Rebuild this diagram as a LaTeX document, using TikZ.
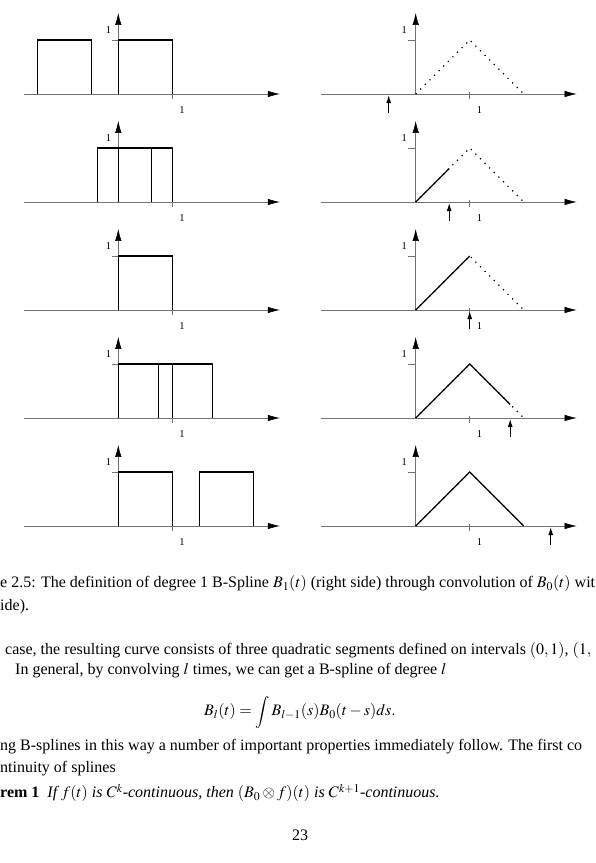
\documentclass[tikz,border=0pt]{standalone}
\usepackage{amsmath}
\usepackage{mathptmx}
\usepackage{fontspec}
\setmainfont{Liberation Serif}
\usepackage{tikz}
\usetikzlibrary{arrows.meta,calc}

\begin{document}
\begin{tikzpicture}[
    axisline/.style={draw=black!55, line width=0.5bp,
                     -{Latex[length=12bp,width=6.5bp,black]}},
    tickmark/.style={draw=black!55, line width=0.5bp},
    boxline/.style={line width=1.2bp},
    solid curve/.style={line width=1.2bp},
    dotted curve/.style={line width=1.2bp, dash pattern=on 1.2bp off 5.3bp},
    marker/.style={line width=1bp, -{Latex[length=8bp,width=5bp]}},
    lbl/.style={inner sep=0pt, font=\fontsize{10.5bp}{12bp}\selectfont},
    txt/.style={anchor=base west, inner sep=0pt, font=\fontsize{16bp}{19bp}\selectfont},
    x=1bp, y=1bp
]
\useasboundingbox (0,0) rectangle (596,863);
\clip (0,0) rectangle (596,863);

% rows: position t of the moving box and height of the axis
\foreach \t/\Y [count=\i] in {-0.5/769, 0.62/661, 1/553, 1.75/445, 2.5/337} {
  % left: B_0(s) and B_0(t-s)
  \begin{scope}[shift={(118.3,\Y)}, x=54bp, y=54bp]
    \draw[axisline] (-1.74,0) -- (2.99,0);
    \draw[axisline] (0,0) -- (0,1.5);
    \draw[tickmark] (-0.11,1) -- (0,1);
    \draw[tickmark] (1,0.03) -- (1,-0.1);
    \node[lbl] (ly\i) at (-0.18,1.19) {1};
    \node[lbl] (lx\i) at (1.18,-0.3) {1};
    \draw[boxline] (0,0) -- (0,1) -- (1,1) -- (1,0);
    \draw[boxline] (\t-1,0) -- (\t-1,1) -- (\t,1) -- (\t,0);
  \end{scope}
  % right: B_1(t) drawn up to t
  \begin{scope}[shift={(415.7,\Y)}, x=54bp, y=54bp]
    \draw[axisline] (-1.76,0) -- (2.98,0);
    \draw[axisline] (0,0) -- (0,1.5);
    \draw[tickmark] (-0.14,1) -- (0,1);
    \draw[tickmark] (1,0.03) -- (1,-0.1);
    \node[lbl] (ry\i) at (-0.21,1.19) {1};
    \node[lbl] (rx\i) at (1.18,-0.3) {1};
    \draw[dotted curve] (0,0) -- (1,1) -- (2,0);
    \pgfmathsetmacro\a{min(max(\t,0),1)}
    \pgfmathsetmacro\b{\t>1 ? min(\t,2) : \a}
    \pgfmathsetmacro\c{\t>1 ? 2-\b : \a}
    \draw[solid curve] (0,0) -- (\a,\a) -- (\b,\c);
    \coordinate (mb\i) at (\t,-0.36);
    \coordinate (mt\i) at (\t,-0.02);
    \draw[marker] (mb\i) -- (mt\i);
  \end{scope}
}

% caption and text
\node[txt] (cap1) at (0,275) {e 2.5: The definition of degree 1 B-Spline $B_1(t)$ (right side) through convolution of $B_0(t)$ wit};
\node[txt] (cap2) at (0,252) {ide).};
\node[txt] (par1) at (5,208) {case, the resulting curve consists of three quadratic segments defined on intervals $(0,1)$, $(1,$};
\node[txt] (par2) at (15,188) {In general, by convolving $l$ times, we can get a B-spline of degree $l$};
\node[txt, anchor=base] (eq) at (300,147) {$\displaystyle B_l(t)=\int B_{l-1}(s)B_0(t-s)ds.$};
\node[txt] (par3) at (0,112) {ng B-splines in this way a number of important properties immediately follow. The first co};
\node[txt] (par4) at (0,90) {ntinuity of splines};
\node[txt] (thm) at (0,65) {\textbf{rem 1}\enspace\textit{If $f(t)$ is $C^k$-continuous, then $(B_0\otimes f)(t)$ is $C^{k+1}$-continuous.}};
\node[txt, anchor=base] (page) at (300,22) {23};
\end{tikzpicture}
\end{document}
